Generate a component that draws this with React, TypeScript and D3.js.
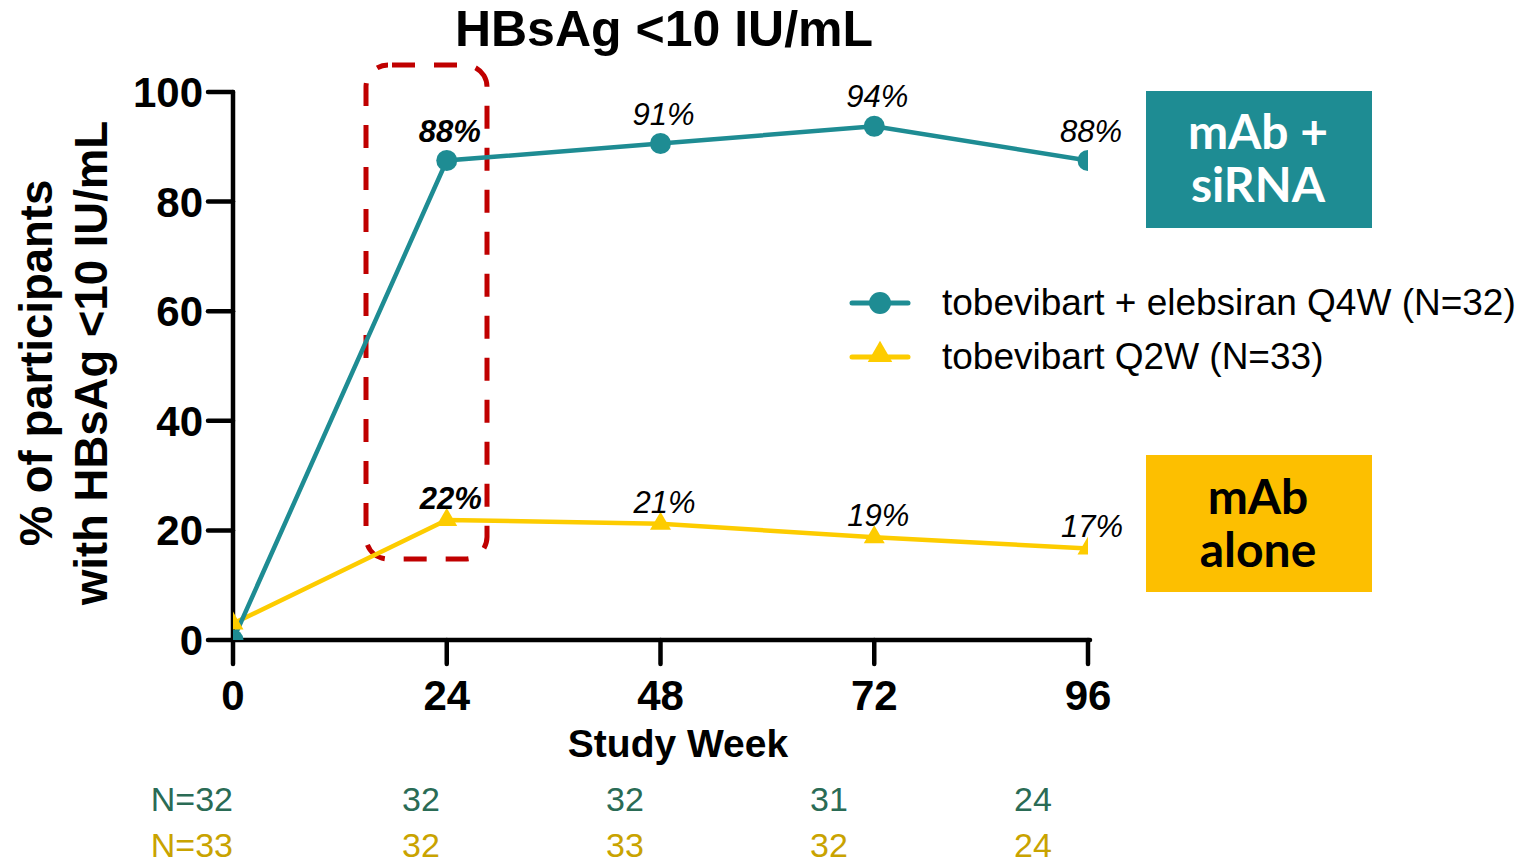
import React from "react";
import * as d3 from "d3";

const weeks = [0, 24, 48, 72, 96];
const comboValues = [0, 87.5, 90.6, 93.75, 87.5];
const monoValues = [3, 21.9, 21.2, 18.75, 16.7];
const comboLabels = ["", "88%", "91%", "94%", "88%"];
const monoLabels = ["", "22%", "21%", "19%", "17%"];
const comboN = ["N=32", "32", "32", "31", "24"];
const monoN = ["N=33", "32", "33", "32", "24"];
const yTicks = [0, 20, 40, 60, 80, 100];
const legendNames = ["tobevibart + elebsiran Q4W (N=32)", "tobevibart Q2W (N=33)"];

const TEAL = "#1e8c93";
const YELLOW = "#fdcc00";
const FONT = "'Liberation Sans', Arial, sans-serif";

export default function App() {
  const W = 1522, H = 863;
  const x = d3.scaleLinear().domain([0, 96]).range([233, 1088]);
  const y = d3.scaleLinear().domain([0, 100]).range([640, 92]);
  const line = d3.line<number>().x((_, i) => x(weeks[i])).y((v) => y(v));
  const tri = d3.symbol().type(d3.symbolTriangle).size(190)();
  const nx = d3.scaleLinear().domain([1, 4]).range([421, 1033]);

  return (
    <svg width={W} height={H} style={{ position: "absolute", left: 0, top: 0, background: "#fff" }}>
      <defs>
        <clipPath id="plotclip">
          <rect x={233} y={60} width={1088 - 233} height={640 - 60} />
        </clipPath>
      </defs>
      <text x={664} y={46} textAnchor="middle" fontFamily={FONT} fontWeight="bold" fontSize={50}>HBsAg &lt;10 IU/mL</text>

      {/* y axis label */}
      <g transform="translate(0,363) rotate(-90)" fontFamily={FONT} fontWeight="bold" fontSize={45.5} textAnchor="middle">
        <text x={0} y={52}>% of participants</text>
        <text x={0} y={107}>with HBsAg &lt;10 IU/mL</text>
      </g>

      {/* highlight box */}
      <rect x={366} y={65} width={121} height={494} rx={22} ry={22} fill="none" stroke="#c00000" strokeWidth={5} strokeDasharray="23 19" strokeDashoffset={-4} />

      {/* axes */}
      <g stroke="#000" strokeWidth={4.5} strokeLinecap="round">
        <line x1={233} x2={233} y1={y(100)} y2={y(0)} />
        <line x1={233} x2={1090} y1={y(0)} y2={y(0)} />
        {yTicks.map((t) => (
          <line key={t} x1={208} x2={233} y1={y(t)} y2={y(t)} />
        ))}
        {weeks.map((w) => (
          <line key={w} x1={x(w)} x2={x(w)} y1={640} y2={664} />
        ))}
      </g>
      <g fontFamily={FONT} fontWeight="bold" fontSize={42}>
        {yTicks.map((t) => (
          <text key={t} x={203} y={y(t) + 15} textAnchor="end">{t}</text>
        ))}
        {weeks.map((w) => (
          <text key={w} x={x(w)} y={710} textAnchor="middle">{w}</text>
        ))}
        <text x={678} y={757} textAnchor="middle" fontSize={39}>Study Week</text>
      </g>

      {/* series */}
      <g clipPath="url(#plotclip)">
        <path d={line(monoValues) || ""} fill="none" stroke={YELLOW} strokeWidth={4.5} />
        <path d={line(comboValues) || ""} fill="none" stroke={TEAL} strokeWidth={4.5} />
        {monoValues.map((v, i) => (
          <path key={"m" + i} d={tri || ""} transform={`translate(${x(weeks[i])},${y(v)})`} fill={YELLOW} />
        ))}
        {comboValues.map((v, i) => (
          <circle key={"c" + i} cx={x(weeks[i])} cy={y(v)} r={10.5} fill={TEAL} />
        ))}
      </g>

      {/* data labels */}
      <g fontFamily={FONT} fontStyle="italic" fontSize={31} textAnchor="middle">
        {comboLabels.map((l, i) => l ? (
          <text key={"cl" + i} x={x(weeks[i]) + 3} y={y(comboValues[i]) - 19} fontWeight={i === 1 ? "bold" : "normal"}>{l}</text>
        ) : null)}
        {monoLabels.map((l, i) => l ? (
          <text key={"ml" + i} x={x(weeks[i]) + 4} y={y(monoValues[i]) - 11} fontWeight={i === 1 ? "bold" : "normal"}>{l}</text>
        ) : null)}
      </g>

      {/* legend */}
      <g>
        <line x1={852} x2={908} y1={303} y2={303} stroke={TEAL} strokeWidth={5} strokeLinecap="round" />
        <circle cx={880} cy={303} r={11} fill={TEAL} />
        <line x1={852} x2={908} y1={357} y2={357} stroke={YELLOW} strokeWidth={5} strokeLinecap="round" />
        <path d={d3.symbol().type(d3.symbolTriangle).size(260)() || ""} transform="translate(880,355)" fill={YELLOW} />
        <text x={942} y={315} fontFamily={FONT} fontSize={37}>{legendNames[0]}</text>
        <text x={942} y={369} fontFamily={FONT} fontSize={37}>{legendNames[1]}</text>
      </g>

      {/* group boxes */}
      <rect x={1146} y={91} width={226} height={137} fill="#1e8c93" />
      <g fontFamily="Lato, sans-serif" fontWeight="bold" fontSize={48} textAnchor="middle" fill="#fff">
        <text x={1258} y={149}>mAb +</text>
        <text x={1258} y={202}>siRNA</text>
      </g>
      <rect x={1146} y={455} width={226} height={137} fill="#fdbf00" />
      <g fontFamily="Lato, sans-serif" fontWeight="bold" fontSize={48} textAnchor="middle" fill="#000">
        <text x={1258} y={514}>mAb</text>
        <text x={1258} y={567}>alone</text>
      </g>

      {/* N at risk */}
      <g fontFamily={FONT} fontSize={34}>
        {comboN.map((n, i) => (
          <text key={"cn" + i} x={i === 0 ? 233 : nx(i)} y={811} textAnchor={i === 0 ? "end" : "middle"} fill="#2a6b55">{n}</text>
        ))}
        {monoN.map((n, i) => (
          <text key={"mn" + i} x={i === 0 ? 233 : nx(i)} y={857} textAnchor={i === 0 ? "end" : "middle"} fill="#c9a300">{n}</text>
        ))}
      </g>
    </svg>
  );
}
